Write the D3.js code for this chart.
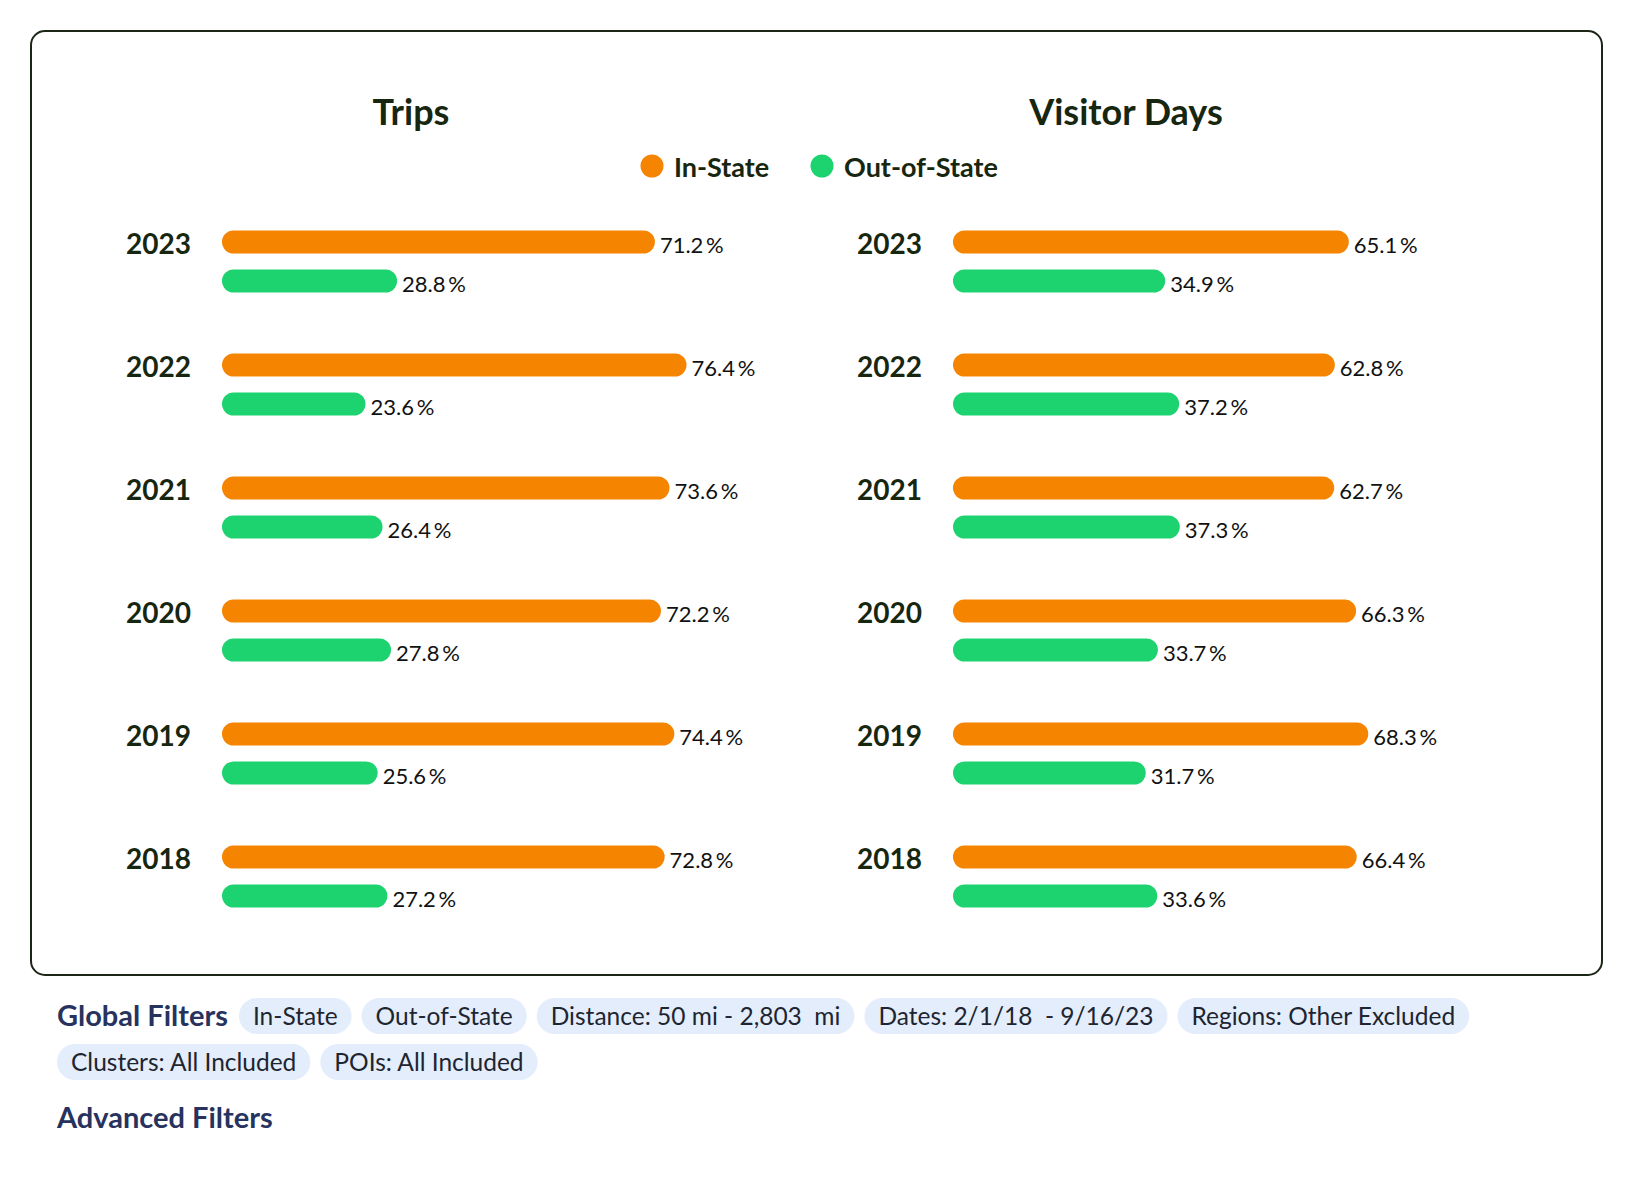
<!DOCTYPE html>
<html>
<head>
<meta charset="utf-8">
<script src="https://cdn.jsdelivr.net/npm/d3@7.9.0/dist/d3.min.js"></script>
<style>
  html, body { margin: 0; padding: 0; background: #fff; }
  svg { display: block; font-family: Lato, "Noto Sans", sans-serif; }
</style>
</head>
<body>
<div id="chart"></div>
<script>
// data
const years = ['2023', '2022', '2021', '2020', '2019', '2018'];
const series = ['In-State', 'Out-of-State'];
const tripsIn = [71.2, 76.4, 73.6, 72.2, 74.4, 72.8];
const tripsOut = [28.8, 23.6, 26.4, 27.8, 25.6, 27.2];
const daysIn = [65.1, 62.8, 62.7, 66.3, 68.3, 66.4];
const daysOut = [34.9, 37.2, 37.3, 33.7, 31.7, 33.6];
const panelTitles = ['Trips', 'Visitor Days'];
const globalFilters = ['In-State', 'Out-of-State', 'Distance: 50 mi - 2,803  mi',
  'Dates: 2/1/18  - 9/16/23', 'Regions: Other Excluded',
  'Clusters: All Included', 'POIs: All Included'];

const width = 1634;
const height = 1180;
const colors = { 'In-State': '#f58400', 'Out-of-State': '#1dd36f' };
const dark = '#17260f';

const svg = d3.select('#chart')
  .append('svg')
  .attr('width', width)
  .attr('height', height);

// card frame
svg.append('rect')
  .attr('x', 31).attr('y', 31)
  .attr('width', 1571).attr('height', 944)
  .attr('rx', 14)
  .attr('fill', '#fff')
  .attr('stroke', '#1b2616')
  .attr('stroke-width', 2);

const x = d3.scaleLinear().domain([0, 100]).range([0, 608]);
const y = d3.scaleBand().domain(years).range([200, 938]);
const sub = d3.scaleBand().domain(series).range([30.5, 92.5]).paddingInner(0.41);

const panels = [
  { title: panelTitles[0], left: 222, titleX: 411, values: [tripsIn, tripsOut] },
  { title: panelTitles[1], left: 953, titleX: 1126, values: [daysIn, daysOut] },
];

panels.forEach((p) => {
  const g = svg.append('g').attr('transform', `translate(${p.left}, 0)`);

  svg.append('text')
    .attr('x', p.titleX).attr('y', 125)
    .attr('text-anchor', 'middle')
    .attr('font-size', 36)
    .attr('font-weight', 700)
    .attr('fill', dark)
    .text(p.title);

  const rows = years.map((yr, i) => ({
    year: yr,
    bars: series.map((s, j) => ({ key: s, value: p.values[j][i] })),
  }));

  const row = g.selectAll('g.row')
    .data(rows)
    .join('g')
    .attr('class', 'row')
    .attr('transform', (d) => `translate(0, ${y(d.year)})`);

  row.append('text')
    .attr('x', -31)
    .attr('y', sub('In-State') + sub.bandwidth() / 2 + 2)
    .attr('dy', '0.35em')
    .attr('text-anchor', 'end')
    .attr('font-size', 28)
    .attr('font-weight', 700)
    .attr('fill', dark)
    .text((d) => d.year);

  row.selectAll('rect')
    .data((d) => d.bars)
    .join('rect')
    .attr('x', 0)
    .attr('y', (d) => sub(d.key))
    .attr('width', (d) => x(d.value))
    .attr('height', sub.bandwidth())
    .attr('rx', sub.bandwidth() / 2)
    .attr('fill', (d) => colors[d.key]);

  row.selectAll('text.val')
    .data((d) => d.bars)
    .join('text')
    .attr('class', 'val')
    .attr('x', (d) => x(d.value) + 5)
    .attr('y', (d) => sub(d.key) + sub.bandwidth() / 2 + 3)
    .attr('dy', '0.35em')
    .attr('font-size', 22)
    .attr('fill', '#111')
    .text((d) => d.value.toFixed(1) + '\u2009%');
});

// legend
const legend = svg.append('g').attr('class', 'legend');
const legendX = { 'In-State': 652, 'Out-of-State': 822 };
series.forEach((s) => {
  legend.append('circle')
    .attr('cx', legendX[s]).attr('cy', 166)
    .attr('r', 11.5)
    .attr('fill', colors[s]);
  legend.append('text')
    .attr('x', legendX[s] + 22).attr('y', 168)
    .attr('dy', '0.35em')
    .attr('font-size', 27)
    .attr('font-weight', 700)
    .attr('fill', dark)
    .text(s);
});

// filters footer
const navy = '#27335e';
const gf = svg.append('text')
  .attr('x', 57).attr('y', 1016)
  .attr('dy', '0.35em')
  .attr('font-size', 29)
  .attr('font-weight', 700)
  .attr('fill', navy)
  .text('Global Filters');

const rowsY = [1016, 1062];
let cx = 57 + gf.node().getComputedTextLength() + 11;
globalFilters.forEach((f, i) => {
  const rowIdx = i < 5 ? 0 : 1;
  if (i === 5) cx = 57;
  const chip = svg.append('g');
  const t = chip.append('text')
    .attr('y', rowsY[rowIdx])
    .attr('dy', '0.35em')
    .attr('font-size', 24.5)
    .attr('fill', '#1e2530')
    .style('white-space', 'pre')
    .text(f);
  const w = t.node().getComputedTextLength();
  chip.insert('rect', 'text')
    .attr('x', cx).attr('y', rowsY[rowIdx] - 18)
    .attr('width', w + 28).attr('height', 36)
    .attr('rx', 18)
    .attr('fill', '#e3edfc');
  t.attr('x', cx + 14);
  cx += w + 28 + 10;
});

svg.append('text')
  .attr('x', 57).attr('y', 1118)
  .attr('dy', '0.35em')
  .attr('font-size', 29)
  .attr('font-weight', 700)
  .attr('fill', navy)
  .text('Advanced Filters');
</script>
</body>
</html>
